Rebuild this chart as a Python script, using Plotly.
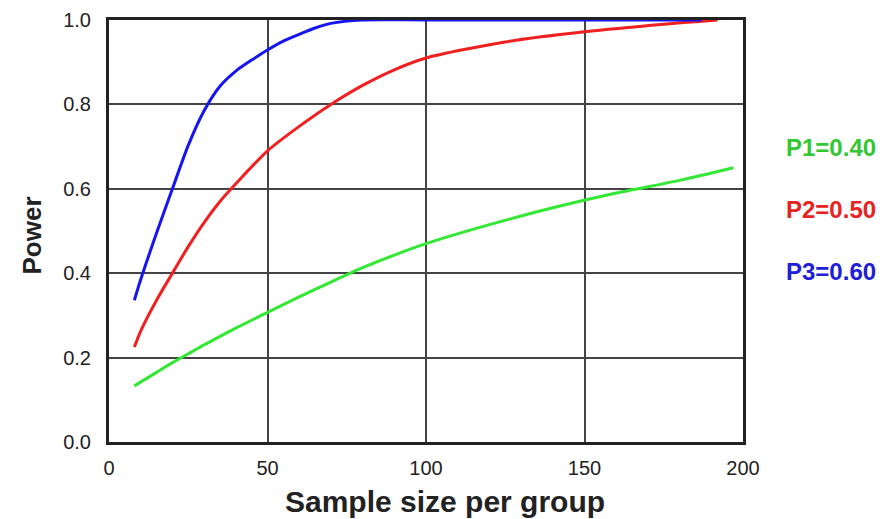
import plotly.graph_objects as go

# Sample sizes and power values
n_p1 = [8, 15, 20, 25, 30, 40, 50, 60, 70, 80, 90, 100, 120, 140, 160, 180, 197]
power_p1 = [0.133, 0.165, 0.188, 0.209, 0.23, 0.27, 0.307, 0.344, 0.379, 0.413, 0.443, 0.47, 0.515, 0.555, 0.59, 0.62, 0.65]

n_p2 = [8, 10, 15, 20, 25, 30, 35, 40, 50, 60, 70, 80, 90, 100, 125, 150, 175, 192]
power_p2 = [0.225, 0.263, 0.336, 0.40, 0.463, 0.52, 0.57, 0.612, 0.69, 0.748, 0.80, 0.845, 0.882, 0.91, 0.948, 0.972, 0.99, 1.0]

n_p3 = [8, 10, 15, 20, 25, 30, 35, 40, 45, 50, 55, 60, 65, 70, 80, 100, 140, 187]
power_p3 = [0.336, 0.385, 0.495, 0.60, 0.703, 0.785, 0.843, 0.879, 0.905, 0.929, 0.95, 0.966, 0.981, 0.992, 1.0, 1.0, 1.0, 1.0]

labels = ["P1=0.40", "P2=0.50", "P3=0.60"]
label_y = [0.697, 0.55, 0.403]
line_colors = ["#33e833", "#f02020", "#1515f0"]
text_colors = ["#33c833", "#e82222", "#2020d8"]

x_ticks = [0, 50, 100, 150, 200]
y_ticks = [0.0, 0.2, 0.4, 0.6, 0.8, 1.0]
y_tick_text = ["0.0", "0.2", "0.4", "0.6", "0.8", "1.0"]
x_title = "Sample size per group"
y_title = "Power"

FONT = "Liberation Sans, Arial, sans-serif"
DARK = "#222222"

fig = go.Figure()
for xs, ys, c in [(n_p1, power_p1, line_colors[0]),
                  (n_p2, power_p2, line_colors[1]),
                  (n_p3, power_p3, line_colors[2])]:
    fig.add_trace(go.Scatter(x=xs, y=ys, mode="lines",
                             line=dict(color=c, width=3, shape="spline", smoothing=0.7),
                             showlegend=False, hoverinfo="skip", cliponaxis=False))

for lab, yy, c in zip(labels, label_y, text_colors):
    fig.add_annotation(x=1.139, y=yy, xref="paper", yref="paper", text="<b>" + lab + "</b>",
                       showarrow=False, font=dict(family=FONT, size=24, color=c),
                       xanchor="center", yanchor="middle")

fig.add_annotation(x=0.53, y=-0.14, xref="paper", yref="paper", text="<b>" + x_title + "</b>",
                   showarrow=False, font=dict(family=FONT, size=30, color=DARK),
                   xanchor="center", yanchor="middle")
fig.add_annotation(x=-0.121, y=0.49, xref="paper", yref="paper", text="<b>" + y_title + "</b>",
                   showarrow=False, textangle=-90, font=dict(family=FONT, size=26, color=DARK),
                   xanchor="center", yanchor="middle")

# The page body adds an 8px offset, so the figure is sized to fill the rest of the window
fig.update_layout(
    width=883, height=511,
    margin=dict(l=101, r=148, t=12, b=77),
    plot_bgcolor="white", paper_bgcolor="white",
    font=dict(family=FONT, color=DARK),
)
fig.update_xaxes(range=[0, 200], tickvals=x_ticks, showgrid=True, gridcolor="#444444", gridwidth=1.5,
                 showline=True, mirror=True, linecolor=DARK, linewidth=3,
                 ticks="outside", ticklen=6, tickcolor="rgba(0,0,0,0)", automargin=False,
                 tickfont=dict(size=20, family=FONT, color=DARK), zeroline=False)
fig.update_yaxes(range=[0, 1.0], tickvals=y_ticks, ticktext=y_tick_text, showgrid=True, gridcolor="#444444", gridwidth=1.5,
                 showline=True, mirror=True, linecolor=DARK, linewidth=3,
                 ticks="outside", ticklen=11, tickcolor="rgba(0,0,0,0)", automargin=False,
                 tickfont=dict(size=20, family=FONT, color=DARK), zeroline=False)

fig.write_html("out.html")
